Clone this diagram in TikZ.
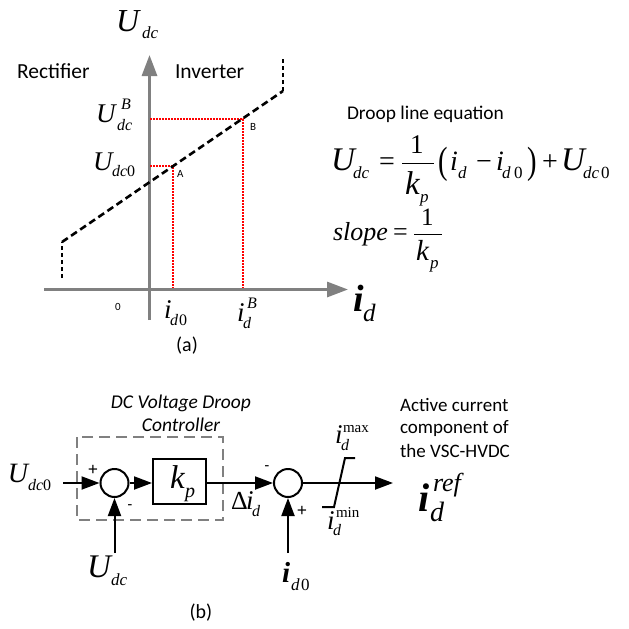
\documentclass[tikz,border=0pt]{standalone}
\usepackage{fontspec}
\setmainfont{Liberation Serif}
\newfontfamily\carl{Carlito}
\usetikzlibrary{arrows.meta}
\newcommand{\lab}[5]{\node[lab] (#1) at (#2,#3) {\fontsize{#4}{#4}\selectfont\itshape #5};}
\newcommand{\rom}[5]{\node[lab] (#1) at (#2,#3) {\fontsize{#4}{#4}\selectfont #5};}
\newcommand{\blab}[5]{\node[lab] (#1) at (#2,#3) {\fontsize{#4}{#4}\selectfont\bfseries\itshape #5};}
\newcommand{\clab}[5]{\node[lab] (#1) at (#2,#3) {\fontsize{#4}{#4}\selectfont\carl #5};}
\newcommand{\cctr}[5]{\node[lab,anchor=base] (#1) at (#2,#3) {\fontsize{#4}{#4}\selectfont\carl #5};}
\tikzset{
  lab/.style={inner sep=0pt,outer sep=0pt,anchor=base west,text=black},
  axisline/.style={draw=axisgray,line width=3pt,-{Triangle[length=21pt,width=15pt]}},
  droop/.style={line width=2.6pt,dash pattern=on 7pt off 4pt},
  droopv/.style={line width=2.6pt,dash pattern=on 4pt off 3pt},
  guide/.style={draw=red,line width=1.2pt,dash pattern=on 2pt off 1pt},
  sumnode/.style={circle,draw,line width=2pt,minimum size=28pt,inner sep=0pt},
  gainbox/.style={draw,line width=2pt,minimum width=53pt,minimum height=45pt,inner sep=0pt},
  sig/.style={line width=2pt,-{Triangle[length=18pt,width=13pt]}},
  ctrlbox/.style={draw=axisgray,line width=1.5pt,dash pattern=on 11pt off 6pt},
  fracbar/.style={line width=0.9pt}
}
\definecolor{axisgray}{RGB}{128,128,128}
\begin{document}
\begin{tikzpicture}[x=1pt,y=-1pt]
\useasboundingbox (0,0) rectangle (629,629);
\fill[white] (0,0) rectangle (629,629);
% axes
\coordinate (yb) at (149.5,320); \coordinate (yt) at (149.5,55);
\coordinate (xb) at (44,289.5); \coordinate (xt) at (348,289.5);
\draw[axisline] (yb) -- (yt);
\draw[axisline] (xb) -- (xt);
% guides
\coordinate (A) at (173,166); \coordinate (B) at (243,119);
\coordinate (Ay) at (150,166); \coordinate (By) at (150,119);
\coordinate (Ax) at (173,288); \coordinate (Bx) at (243,288);
\draw[guide] (Ay) -- (A) -- (Ax);
\draw[guide] (By) -- (B) -- (Bx);
% droop
\coordinate (d0) at (62,278); \coordinate (d1) at (62,242);
\coordinate (d2) at (283,91); \coordinate (d3) at (283,58);
\draw[droopv] (d0) -- (d1);
\draw[droop] (d1) -- (d2);
\draw[droopv] (d2) -- (d3);
% (a) labels
\lab{ua}{116}{31}{32}{U}\lab{uas}{142}{38}{17}{dc}
\clab{rect}{17}{78}{21.5}{Rectifier}
\clab{inv}{175}{78}{21.5}{Inverter}
\lab{ub}{96}{122}{27}{U}\lab{ubs}{117}{130}{16}{dc}\lab{ubp}{121}{109}{16}{B}
\lab{uo}{93}{170}{27}{U}\lab{uos}{112}{176}{16}{dc}\rom{uoz}{127}{176}{16}{0}
\clab{la}{177}{177}{11}{A}
\clab{lb}{250}{130}{11}{B}
\clab{zero}{115}{310}{11}{0}
\lab{io}{164}{318}{27}{i}\lab{ios}{170}{325}{16}{d}\rom{ioz}{179}{325}{16}{0}
\lab{ib}{237}{321}{27}{i}\lab{ibs}{243}{328}{16}{d}\lab{ibp}{247}{308}{16}{B}
\blab{idx}{353}{311}{38}{i}\lab{idxs}{363}{321}{25}{d}
\cctr{capa}{187}{351}{20}{(a)}
% equations
\clab{eqt}{347}{119}{19.4}{Droop line equation}
\lab{e1}{331}{170}{33}{U}\lab{e1s}{353}{178}{17}{dc}
\rom{e1q}{379}{170}{28}{=}
\rom{e1n}{410}{153}{27}{1}
\draw[fracbar] (402,163.5) -- (434,163.5);
\lab{e1k}{405}{194}{33}{k}\lab{e1p}{420}{202}{17}{p}
\rom{e1l}{438}{173}{38}{\scalebox{0.75}[1]{(}}
\lab{e1i}{450}{170}{28}{i}\lab{e1d}{458}{178}{17}{d}
\rom{e1m}{476}{170}{28}{−}
\lab{e1j}{496}{170}{28}{i}\lab{e1e}{502}{178}{17}{d}\rom{e1z}{514}{178}{17}{0}
\rom{e1r}{527}{173}{38}{\scalebox{0.75}[1]{)}}
\rom{e1pl}{542}{170}{28}{+}
\lab{e2}{561}{170}{33}{U}\lab{e2s}{583}{178}{17}{dc}\rom{e2z}{601}{178}{17}{0}
\lab{sl}{333}{240}{26}{slope}
\rom{slq}{393}{240}{26}{=}
\rom{sln}{421}{225}{25}{1}
\draw[fracbar] (414,234.5) -- (442,234.5);
\lab{slk}{416}{260}{29}{k}\lab{slp}{430}{268}{17}{p}
% (b) block diagram
\draw[ctrlbox] (77,437) rectangle (223,520);
\node[sumnode] (s1) at (114.5,483) {};
\node[sumnode] (s2) at (288,483) {};
\node[gainbox] (kp) at (179.5,481.5) {};
\coordinate (in1) at (63,483);
\coordinate (in2) at (114.5,553);
\coordinate (in3) at (288,553);
\coordinate (lim) at (393,483);
\draw[sig] (in1) -- (s1.west);
\draw[sig] (in2) -- (s1.south);
\draw[sig] (s1.east) -- (kp.west |- s1.east);
\draw[sig] (kp.east |- s2.west) -- (s2.west);
\draw[sig] (in3) -- (s2.south);
\draw[sig] (s2.east) -- (lim);
\coordinate (l0) at (322,507); \coordinate (l1) at (334,507);
\coordinate (l2) at (345,458); \coordinate (l3) at (355,458);
\draw[line width=2pt] (l0) -- (l1) -- (l2) -- (l3);
\lab{kk}{170}{488}{33}{k}\lab{kks}{185}{497}{20}{p}
\lab{bu}{8}{482}{28}{U}\lab{bus}{28}{490}{16}{dc}\rom{buz}{43}{490}{16}{0}
\lab{bv}{87}{577}{33}{U}\lab{bvs}{111}{585}{17}{dc}
\node[lab,anchor=center,font=\bfseries\fontsize{18}{18}\selectfont] (p1) at (93,470) {+};
\node[lab,anchor=center,font=\bfseries\fontsize{14}{14}\selectfont] (m1) at (130,507) {-};
\node[lab,anchor=center,font=\bfseries\fontsize{14}{14}\selectfont] (m2) at (267,468) {-};
\node[lab,anchor=center,font=\bfseries\fontsize{18}{18}\selectfont] (p2) at (302,511) {+};
\rom{dl}{231}{509}{26}{Δ}\lab{dli}{246}{509}{27}{i}\lab{dld}{252}{516}{16}{d}
\blab{bi}{282}{582}{29}{i}\lab{bid}{291}{590}{17}{d}\rom{biz}{301}{590}{17}{0}
\lab{mxi}{335}{443}{27}{i}\lab{mxd}{341}{450}{16}{d}\rom{mxs}{343}{432}{15}{max}
\lab{mni}{327}{529}{27}{i}\lab{mnd}{333}{535}{16}{d}\rom{mns}{336}{517}{15}{min}
\blab{ri}{418}{511}{40}{i}\lab{rid}{430}{521}{28}{d}\lab{rir}{433}{491}{26}{ref}
\node[lab,anchor=base,font=\carl\itshape\fontsize{19.5}{19.5}\selectfont] (dc1) at (181,408) {DC Voltage Droop};
\node[lab,anchor=base,font=\carl\itshape\fontsize{19.5}{19.5}\selectfont] (dc2) at (181,431) {Controller};
\clab{ac1}{400}{411}{19}{Active current}
\clab{ac2}{400}{433}{19}{component of}
\clab{ac3}{400}{457}{19}{the VSC-HVDC}
\cctr{capb}{201}{618}{20}{(b)}
\end{tikzpicture}
\end{document}
